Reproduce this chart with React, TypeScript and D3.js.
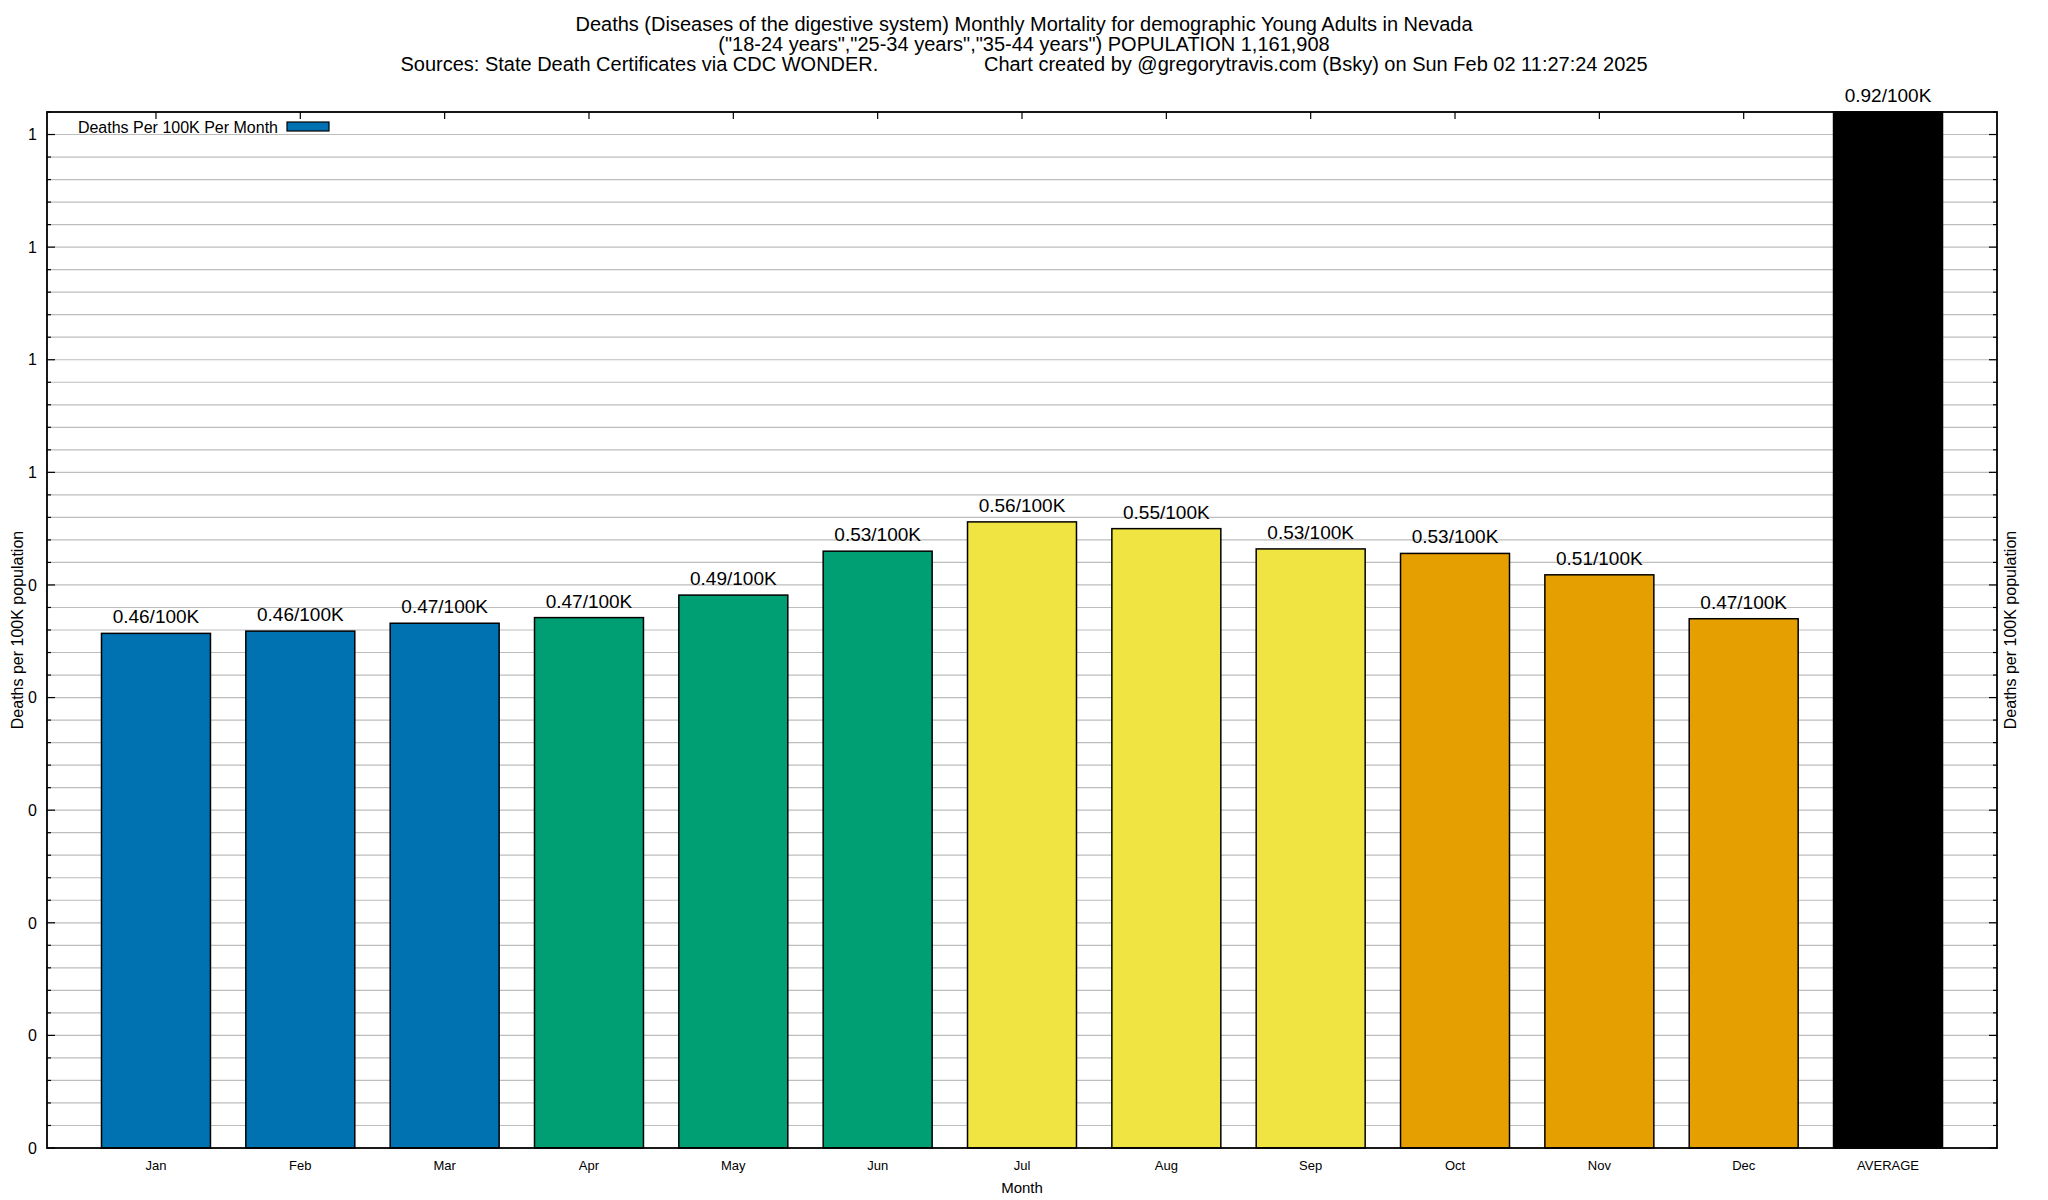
import React, { useRef, useEffect } from "react";
import * as d3 from "d3";

// Chart data
const months = ["Jan", "Feb", "Mar", "Apr", "May", "Jun", "Jul", "Aug", "Sep", "Oct", "Nov", "Dec", "AVERAGE"];
const rates = [0.457, 0.459, 0.466, 0.471, 0.491, 0.53, 0.556, 0.55, 0.532, 0.528, 0.509, 0.47, 0.92];
const seasonColors = [
  "#0072b2", "#0072b2", "#0072b2",
  "#009e73", "#009e73", "#009e73",
  "#f0e442", "#f0e442", "#f0e442",
  "#e69f00", "#e69f00", "#e69f00",
  "#000000",
];
const yTickValues = [0, 0.1, 0.2, 0.3, 0.4, 0.5, 0.6, 0.7, 0.8, 0.9];
const yTickLabels = ["0", "0", "0", "0", "0", "0", "1", "1", "1", "1"];
const titleLines = [
  "Deaths (Diseases of the digestive system) Monthly Mortality for demographic Young Adults in Nevada",
  "(\"18-24 years\",\"25-34 years\",\"35-44 years\") POPULATION 1,161,908",
  "Sources: State Death Certificates via CDC WONDER.                   Chart created by @gregorytravis.com (Bsky) on Sun Feb 02 11:27:24 2025",
];

const WIDTH = 2048;
const HEIGHT = 1200;
const FONT = "'Liberation Sans', Arial, Helvetica, sans-serif";

const App: React.FC = () => {
  const svgRef = useRef<SVGSVGElement>(null);

  useEffect(() => {
    document.body.style.margin = "0";
    if (!svgRef.current) return;
    const svg = d3.select(svgRef.current);
    svg.selectAll("*").remove();

    const left = 47;
    const right = 1997;
    const top = 112;
    const bottom = 1148;

    const x = d3.scalePoint<string>().domain(months).range([left, right]).padding(0.755);
    const barW = x.step() * 0.755;
    const y = d3.scaleLinear().domain([0, 0.92]).range([bottom, top]);

    svg.append("rect").attr("width", WIDTH).attr("height", HEIGHT).attr("fill", "#fff");

    // Grid (major + minor)
    const minor = d3.range(0, 0.9201, 0.02);
    svg
      .append("g")
      .selectAll("line")
      .data(minor.filter((d) => d > 0.001))
      .join("line")
      .attr("x1", left)
      .attr("x2", right)
      .attr("y1", (d) => y(d))
      .attr("y2", (d) => y(d))
      .attr("stroke", "#bdbdbd")
      .attr("stroke-width", 1.2);

    // Axis ticks
    const ticks = svg.append("g").attr("stroke", "#000").attr("stroke-width", 1.2);
    minor.forEach((d) => {
      const major = yTickValues.some((t) => Math.abs(t - d) < 1e-6);
      const len = major ? 8 : 4;
      ticks.append("line").attr("x1", left).attr("x2", left + len).attr("y1", y(d)).attr("y2", y(d));
      ticks.append("line").attr("x1", right).attr("x2", right - len).attr("y1", y(d)).attr("y2", y(d));
    });
    months.forEach((m) => {
      const cx = x(m) as number;
      ticks.append("line").attr("x1", cx).attr("x2", cx).attr("y1", top).attr("y2", top + 7);
      ticks.append("line").attr("x1", cx).attr("x2", cx).attr("y1", bottom).attr("y2", bottom - 7);
    });

    // Bars
    svg
      .append("g")
      .selectAll("rect")
      .data(rates)
      .join("rect")
      .attr("x", (_, i) => (x(months[i]) as number) - barW / 2)
      .attr("y", (d) => y(d))
      .attr("width", barW)
      .attr("height", (d) => bottom - y(d))
      .attr("fill", (_, i) => seasonColors[i])
      .attr("stroke", "#000")
      .attr("stroke-width", 1.5);

    // Bar labels
    svg
      .append("g")
      .selectAll("text")
      .data(rates)
      .join("text")
      .attr("x", (_, i) => x(months[i]) as number)
      .attr("y", (d) => y(d) - 10)
      .attr("text-anchor", "middle")
      .attr("font-family", FONT)
      .attr("font-size", 19)
      .text((d) => `${d.toFixed(2)}/100K`);

    // Border
    svg
      .append("rect")
      .attr("x", left)
      .attr("y", top)
      .attr("width", right - left)
      .attr("height", bottom - top)
      .attr("fill", "none")
      .attr("stroke", "#000")
      .attr("stroke-width", 1.8);

    // Y tick labels
    svg
      .append("g")
      .selectAll("text")
      .data(yTickValues)
      .join("text")
      .attr("x", 37)
      .attr("y", (d) => y(d))
      .attr("dy", "0.36em")
      .attr("text-anchor", "end")
      .attr("font-family", FONT)
      .attr("font-size", 16)
      .text((_, i) => yTickLabels[i]);

    // X tick labels
    svg
      .append("g")
      .selectAll("text")
      .data(months)
      .join("text")
      .attr("x", (d) => x(d) as number)
      .attr("y", 1170)
      .attr("text-anchor", "middle")
      .attr("font-family", FONT)
      .attr("font-size", 13)
      .text((d) => d);

    // Axis titles
    svg
      .append("text")
      .attr("x", (left + right) / 2)
      .attr("y", 1193)
      .attr("text-anchor", "middle")
      .attr("font-family", FONT)
      .attr("font-size", 15)
      .text("Month");

    [17, 2010].forEach((tx) => {
      svg
        .append("text")
        .attr("transform", `translate(${tx},${(top + bottom) / 2}) rotate(-90)`)
        .attr("dy", "0.36em")
        .attr("text-anchor", "middle")
        .attr("font-family", FONT)
        .attr("font-size", 16)
        .text("Deaths per 100K population");
    });

    // Title
    svg
      .append("g")
      .selectAll("text")
      .data(titleLines)
      .join("text")
      .attr("x", 1024)
      .attr("y", (_, i) => 31 + i * 20)
      .attr("text-anchor", "middle")
      .attr("font-family", FONT)
      .attr("font-size", 20)
      .style("white-space", "pre")
      .text((d) => d);

    // Legend
    svg
      .append("text")
      .attr("x", 278)
      .attr("y", 133)
      .attr("text-anchor", "end")
      .attr("font-family", FONT)
      .attr("font-size", 16)
      .text("Deaths Per 100K Per Month");
    svg
      .append("rect")
      .attr("x", 287)
      .attr("y", 122)
      .attr("width", 42)
      .attr("height", 9)
      .attr("fill", seasonColors[0])
      .attr("stroke", "#000")
      .attr("stroke-width", 1.2);
  }, []);

  return <svg ref={svgRef} width={WIDTH} height={HEIGHT} style={{ display: "block" }} />;
};

export default App;
